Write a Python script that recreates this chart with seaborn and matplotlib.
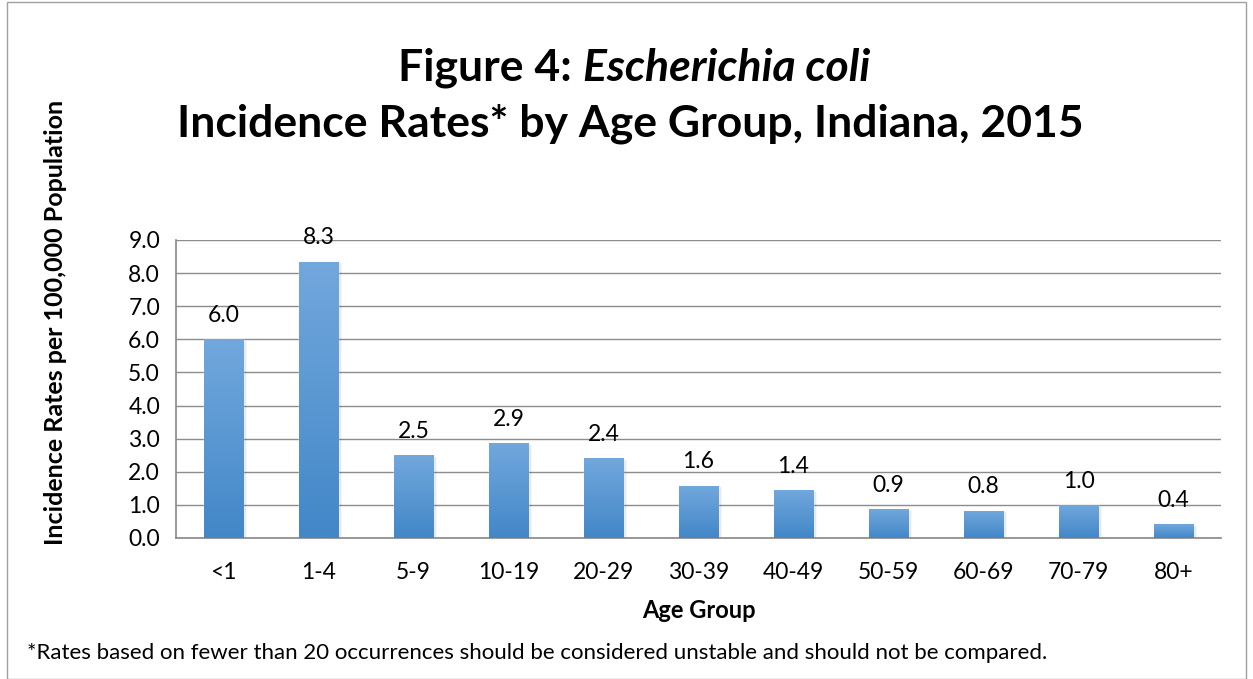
import matplotlib
matplotlib.use("Agg")
import matplotlib.pyplot as plt
import numpy as np
import pandas as pd
import seaborn as sns
from matplotlib.patches import Rectangle

age_groups = ["<1", "1-4", "5-9", "10-19", "20-29", "30-39", "40-49", "50-59", "60-69", "70-79", "80+"]
rates = [6.0, 8.35, 2.5, 2.87, 2.42, 1.58, 1.45, 0.88, 0.83, 1.0, 0.41]
labels = ["6.0", "8.3", "2.5", "2.9", "2.4", "1.6", "1.4", "0.9", "0.8", "1.0", "0.4"]
yticks = [0, 1, 2, 3, 4, 5, 6, 7, 8, 9]

df = pd.DataFrame({"age": age_groups, "rate": rates})

sns.set_theme(style="white")
plt.rcParams['font.family'] = ['Lato', 'DejaVu Sans']
plt.rcParams.update({"text.color": "black", "axes.labelcolor": "black",
                     "xtick.color": "black", "ytick.color": "black"})

fig = plt.figure(figsize=(12.53, 6.79), dpi=100)
ax = fig.add_axes([176 / 1253, 1 - 538 / 679, 1045 / 1253, 298 / 679])

sns.barplot(data=df, x="age", y="rate", ax=ax, width=0.42, color="#5b9bd5", saturation=1)

# gradient fill + soft shadow like the original
grad = np.linspace(0, 1, 256).reshape(-1, 1)
cmap = matplotlib.colors.LinearSegmentedColormap.from_list("g", ["#4287c8", "#72a8dd"])
for p in ax.patches:
    x0, y0 = p.get_x(), p.get_y()
    w, h = p.get_width(), p.get_height()
    for k, a in enumerate([0.10, 0.06, 0.03]):
        sh = Rectangle((x0 + 0.01 + 0.012 * k, y0), w, max(h - 0.05, 0), color="#000000",
                       alpha=a, zorder=1, lw=0)
        ax.add_patch(sh)
    p.set_zorder(2)
    im = ax.imshow(grad, extent=[x0, x0 + w, y0, y0 + h], origin="lower", cmap=cmap,
                   aspect="auto", zorder=3)
    im.set_clip_path(p)

for i, (v, lab) in enumerate(zip(rates, labels)):
    ax.text(i, v + 0.4, lab, ha="center", va="bottom", fontsize=16.5, color="black")

ax.set_xlim(-0.5, len(age_groups) - 0.5)
ax.set_ylim(0, 9)
ax.set_yticks(yticks)
ax.set_yticklabels([f"{t:.1f}" for t in yticks], fontsize=16.5)
ax.set_xticks(range(len(age_groups)))
ax.set_xticklabels(age_groups, fontsize=16.5)
ax.tick_params(axis="x", length=0, pad=17)
ax.tick_params(axis="y", length=6.5, color="#8c8c8c", width=1, pad=5)
ax.set_xticks(np.arange(-0.5, len(age_groups)), minor=True)
ax.tick_params(axis="x", which="minor", length=6, color="#8c8c8c", width=1)
ax.yaxis.grid(True, color="#8c8c8c", lw=1)
ax.set_axisbelow(True)
for s in ["top", "right"]:
    ax.spines[s].set_visible(False)
ax.spines["left"].set_color("#8c8c8c")
ax.spines["bottom"].set_color("#8c8c8c")
ax.set_xlabel("Age Group", fontsize=17, fontweight="bold", labelpad=12)
ax.set_ylabel("Incidence Rates per 100,000 Population", fontsize=18, fontweight="bold")
ax.yaxis.set_label_coords((67 - 176) / 1045, (538 - 322) / 298)

# title with italic organism name
fig.canvas.draw()
r = fig.canvas.get_renderer()
t1 = fig.text(0, 0, "Figure 4: ", fontsize=32, fontweight="bold")
t2 = fig.text(0, 0, "Escherichia coli", fontsize=32, fontweight="bold", style="italic")
w1 = t1.get_window_extent(r).width
w2 = t2.get_window_extent(r).width
start = 634 - (w1 + w2) / 2
t1.set_position((start / 1253, 1 - 81 / 679))
t2.set_position(((start + w1) / 1253, 1 - 81 / 679))
fig.text(630 / 1253, 1 - 137 / 679, "Incidence Rates* by Age Group, Indiana, 2015",
         fontsize=32, fontweight="bold", ha="center")

fig.text(27 / 1253, 1 - 659 / 679,
         "*Rates based on fewer than 20 occurrences should be considered unstable and should not be compared.",
         fontsize=16)

fig.patches.append(Rectangle((7 / 1253, 0.0), 1 - 14 / 1253, 1 - 2 / 679, transform=fig.transFigure,
                             fill=False, edgecolor="#a0a0a0", lw=1))

fig.savefig("out.png", dpi=100)
